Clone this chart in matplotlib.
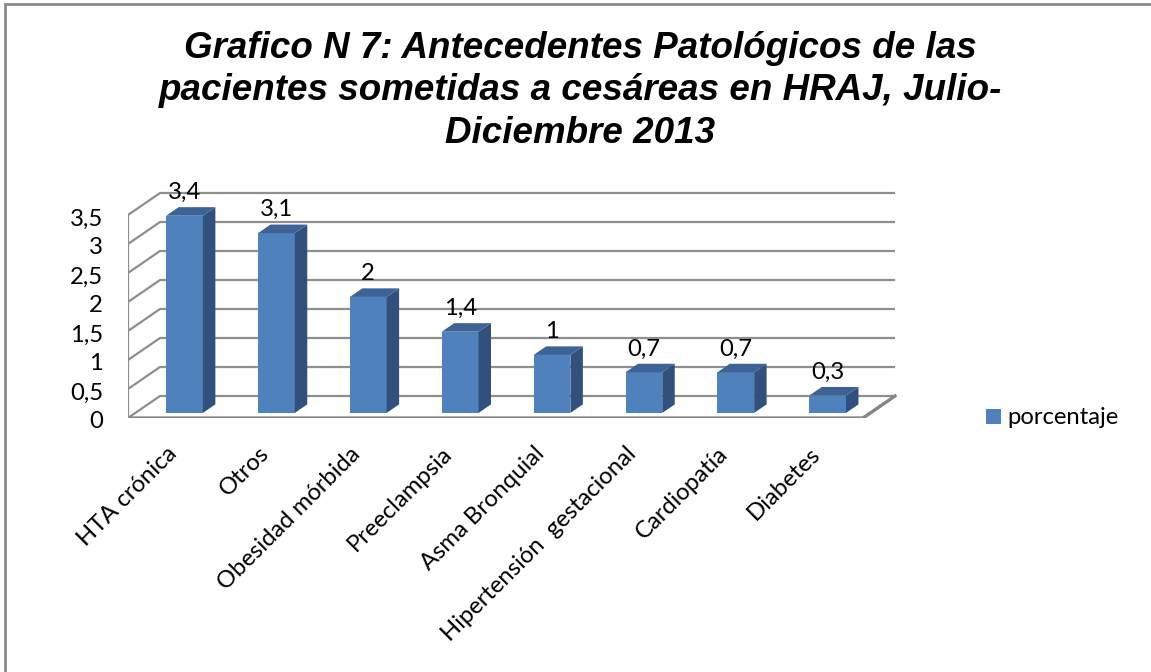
import matplotlib
matplotlib.use("Agg")
import matplotlib.pyplot as plt
from matplotlib.patches import Polygon, Rectangle

# chart data
categories = ["HTA crónica", "Otros", "Obesidad mórbida", "Preeclampsia",
              "Asma Bronquial", "Hipertensión  gestacional", "Cardiopatía", "Diabetes"]
porcentaje = [3.4, 3.1, 2.0, 1.4, 1.0, 0.7, 0.7, 0.3]
y_ticks = [0, 0.5, 1, 1.5, 2, 2.5, 3, 3.5]
series_name = "porcentaje"
title = ("Grafico N 7: Antecedentes Patológicos de las\n"
         "pacientes sometidas a cesáreas en HRAJ, Julio-\n"
         "Diciembre 2013")

W_PX, H_PX = 1151, 672
CAT_PX = 91.875      # pixels per category
UNIT_PX = 58.0       # pixels per value unit
DX = 32 / CAT_PX     # depth of the floor, in data units
DY = 22 / UNIT_PX
F_FRONT, F_BACK = 0.23, 0.62   # bar depth, as a share of the floor depth
BAR_W = 0.40

front_col = "#4F81BD"
side_col = "#31507C"
top_col = "#3D6396"
grid_col = "#8E8E8E"
label_font = "Lato"
label_size = 17.2


def fx(px):
    return px / W_PX


def fy(px):
    return 1 - px / H_PX


fig = plt.figure(figsize=(W_PX / 100, H_PX / 100), dpi=100)
ax_l, ax_r, ax_t, ax_b = 128, 900, 180, 418
ax = fig.add_axes([fx(ax_l), fy(ax_b), fx(ax_r - ax_l), (ax_b - ax_t) / H_PX])
n = len(categories)
ax.set_xlim(0, (ax_r - ax_l) / CAT_PX)
ax.set_ylim(0, (ax_b - ax_t) / UNIT_PX)
ax.axis("off")

# back wall gridlines and side wall diagonals
for t in y_ticks:
    ax.plot([0, DX, n + DX], [t, t + DY, t + DY], color=grid_col, lw=1.6, zorder=1,
            solid_capstyle="butt")
# floor front and right edges, front edge of the side wall
ax.plot([0, n, n + DX], [0, 0, DY], color="#858585", lw=2.4, zorder=1)
ax.plot([0, 0], [0, y_ticks[-1]], color=grid_col, lw=1.6, zorder=1)

# bars: front face with ax.bar, side and top faces as polygons
x_left = [i + 0.5 - BAR_W / 2 + 0.035 + F_FRONT * DX for i in range(n)]
ax.bar(x_left, porcentaje, width=BAR_W, bottom=F_FRONT * DY, align="edge",
       color=front_col, zorder=3)
ddx = (F_BACK - F_FRONT) * DX
ddy = (F_BACK - F_FRONT) * DY
for x0, v in zip(x_left, porcentaje):
    y0 = F_FRONT * DY
    x1 = x0 + BAR_W
    side = Polygon([(x1, y0), (x1 + ddx, y0 + ddy), (x1 + ddx, y0 + v + ddy), (x1, y0 + v)],
                   closed=True, facecolor=side_col, edgecolor="none", zorder=3)
    top = Polygon([(x0, y0 + v), (x1, y0 + v), (x1 + ddx, y0 + v + ddy), (x0 + ddx, y0 + v + ddy)],
                  closed=True, facecolor=top_col, edgecolor="none", zorder=3)
    ax.add_patch(side)
    ax.add_patch(top)
    ax.annotate(f"{v:g}".replace(".", ","), (x0 + BAR_W / 2, y0 + v + ddy),
                xytext=(0, 6), textcoords="offset points", ha="center", va="baseline",
                fontsize=label_size, family=label_font, zorder=4)

# value axis labels
for t in y_ticks:
    ax.text(-25 / CAT_PX, t - 4 / UNIT_PX, f"{t:g}".replace(".", ","), ha="right",
            va="center", fontsize=label_size, family=label_font)

# category labels
for i, c in enumerate(categories):
    ax.text(i + 0.5 - 8 / CAT_PX, -25 / UNIT_PX, c, rotation=45, rotation_mode="anchor",
            ha="right", va="top", fontsize=label_size, family=label_font)

# legend
fig.add_artist(Rectangle((fx(986), fy(424)), fx(15), 15 / H_PX, transform=fig.transFigure,
                         facecolor=front_col, edgecolor="none"))
fig.text(fx(1007), fy(417), series_name, ha="left", va="center", fontsize=label_size,
         family=label_font)

# title
fig.text(fx(580), fy(91), title, ha="center", va="center", fontsize=26.5,
         family="Liberation Sans", weight="bold", style="italic", linespacing=1.29)

# chart area border (right and bottom edges fall outside the picture)
fig.add_artist(Rectangle((fx(5), -0.1), 1.2, fy(4) + 0.1, transform=fig.transFigure,
                         facecolor="none", edgecolor="#8A8A8A", lw=2, clip_on=False))

fig.savefig("out.png", dpi=100)
